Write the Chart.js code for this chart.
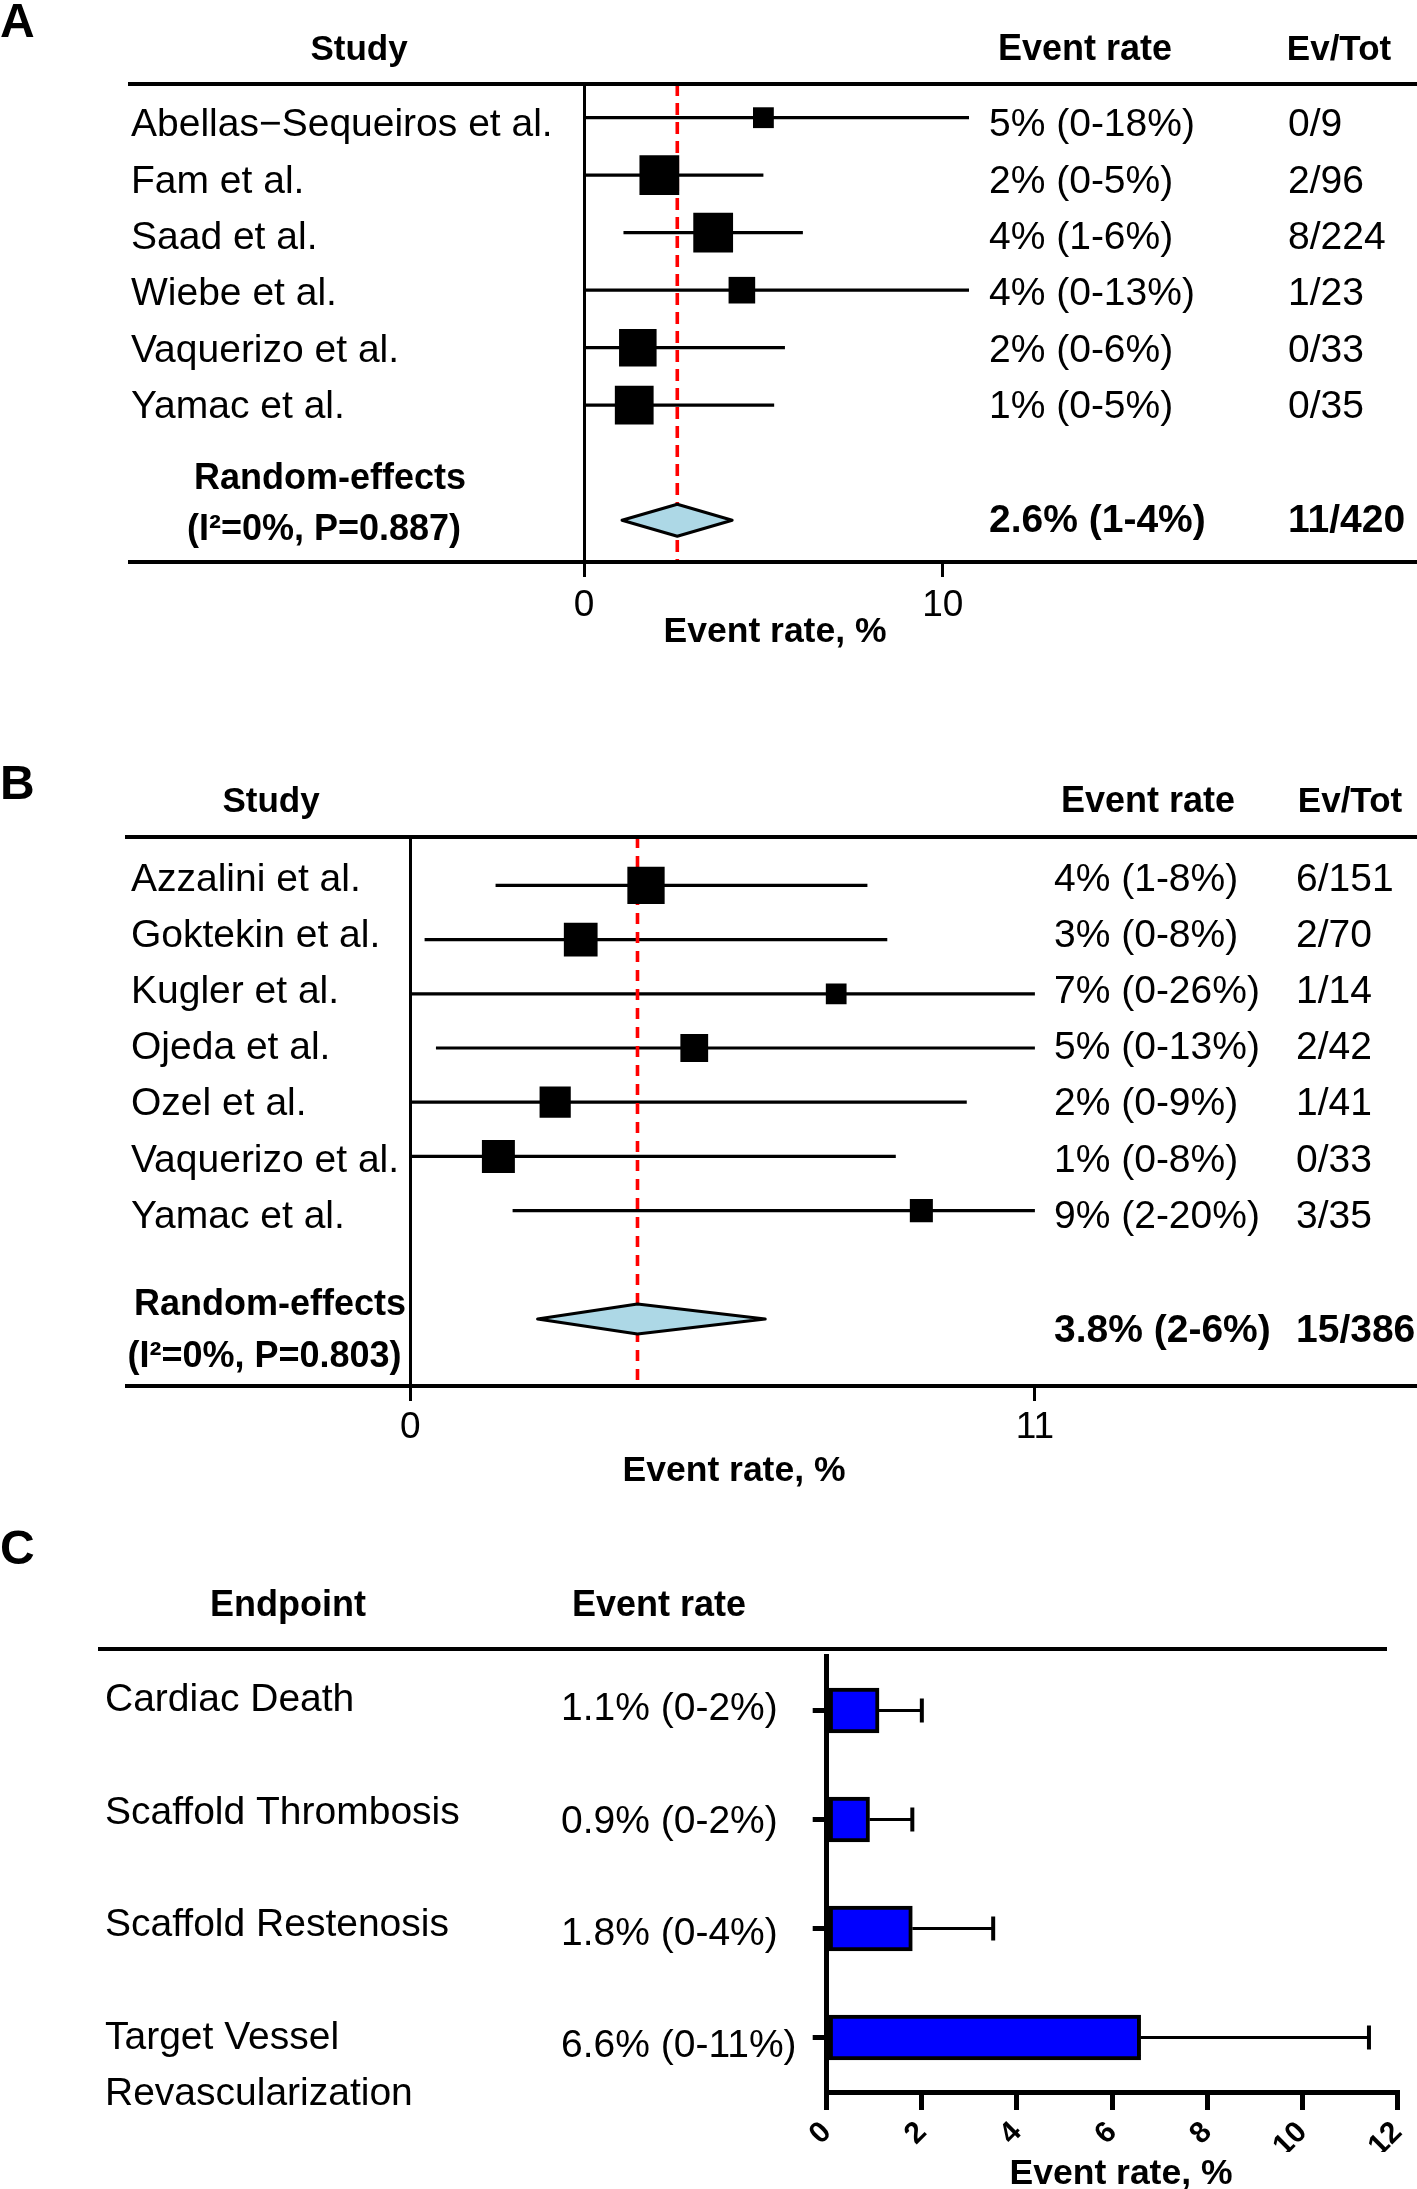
<!DOCTYPE html>
<html><head><meta charset="utf-8">
<script src="https://cdn.jsdelivr.net/npm/chart.js@4/dist/chart.umd.min.js"></script>
<style>
html,body{margin:0;padding:0;background:#fff;}
#wrap{position:relative;width:1417px;height:2189px;overflow:hidden;background:#fff;}
canvas{position:absolute;left:0;}
</style></head><body>
<div id="wrap">
<canvas id="cA" width="1417" height="700" style="top:0px"></canvas>
<canvas id="cB" width="1417" height="760" style="top:740px"></canvas>
<canvas id="cC" width="1417" height="689" style="top:1500px"></canvas>
</div>
<script>
// ---------------- Panel A data ----------------
const studiesA = ['Abellas−Sequeiros et al.', 'Fam et al.', 'Saad et al.', 'Wiebe et al.', 'Vaquerizo et al.', 'Yamac et al.'];
const rateA = [5.0, 2.1, 3.6, 4.4, 1.5, 1.4];
const lowA = [0, 0, 1.1, 0, 0, 0];
const highA = [18, 5.0, 6.1, 13, 5.6, 5.3];
const weightA = [6.0, 21.9, 21.9, 9.8, 19.5, 20.8];
const rateTextA = ['5% (0-18%)', '2% (0-5%)', '4% (1-6%)', '4% (0-13%)', '2% (0-6%)', '1% (0-5%)'];
const evTotA = ['0/9', '2/96', '8/224', '1/23', '0/33', '0/35'];
const pooledA = [1.06, 2.6, 4.13];            // low, estimate, high
const pooledTextA = ['2.6% (1-4%)', '11/420', '(I²=0%, P=0.887)'];
const ticksA = [0, 10];

// ---------------- Panel B data ----------------
const studiesB = ['Azzalini et al.', 'Goktekin et al.', 'Kugler et al.', 'Ojeda et al.', 'Ozel et al.', 'Vaquerizo et al.', 'Yamac et al.'];
const rateB = [4.15, 3.0, 7.5, 5.0, 2.55, 1.55, 9.0];
const lowB = [1.5, 0.25, 0, 0.45, 0, 0, 1.8];
const highB = [8.05, 8.4, 26, 13, 9.8, 8.55, 20];
const weightB = [22.0, 18.0, 6.8, 12.2, 15.4, 17.2, 8.4];
const rateTextB = ['4% (1-8%)', '3% (0-8%)', '7% (0-26%)', '5% (0-13%)', '2% (0-9%)', '1% (0-8%)', '9% (2-20%)'];
const evTotB = ['6/151', '2/70', '1/14', '2/42', '1/41', '0/33', '3/35'];
const pooledB = [2.24, 4.0, 6.25];
const pooledTextB = ['3.8% (2-6%)', '15/386', '(I²=0%, P=0.803)'];
const ticksB = [0, 11];

// ---------------- Panel C data ----------------
const endpointsC = [['Cardiac Death'], ['Scaffold Thrombosis'], ['Scaffold Restenosis'], ['Target Vessel', 'Revascularization']];
const rateC = [1.1, 0.9, 1.8, 6.6];
const upperC = [2.0, 1.8, 3.5, 11.4];
const rateTextC = ['1.1% (0-2%)', '0.9% (0-2%)', '1.8% (0-4%)', '6.6% (0-11%)'];
const ticksC = [0, 2, 4, 6, 8, 10, 12];

// ---------------- helpers ----------------
const FONT = "'Liberation Sans', Arial, Helvetica, sans-serif";
Chart.defaults.font.family = FONT;
Chart.defaults.color = '#000';
const W = 1417;
const TXT_DY = 3;   // canvas 'middle' sits a little above the visual centre of caps

function txt(ctx, s, x, y, size, bold, align) {
  ctx.save();
  ctx.font = (bold ? 'bold ' : '') + size + 'px ' + FONT;
  ctx.fillStyle = '#000';
  ctx.textAlign = align || 'left';
  ctx.textBaseline = 'middle';
  ctx.fillText(s, x, y + TXT_DY);
  ctx.restore();
}
function rule(ctx, x1, x2, y, w) {
  ctx.save();
  ctx.strokeStyle = '#000';
  ctx.lineWidth = w;
  ctx.beginPath(); ctx.moveTo(x1, y); ctx.lineTo(x2, y); ctx.stroke();
  ctx.restore();
}
function noScalePadding(s) { s.paddingLeft = 0; s.paddingRight = 0; s.paddingTop = 0; s.paddingBottom = 0; }

const forestDecor = {
  id: 'forestDecor',
  afterDatasetsDraw(chart, args, o) {
    const ctx = chart.ctx, xs = chart.scales.x, ys = chart.scales.y;
    const p = o.pooled;
    const yc = ys.getPixelForValue(o.summaryRow);
    const xl = xs.getPixelForValue(p[0]), xm = xs.getPixelForValue(p[1]), xr = xs.getPixelForValue(p[2]);
    ctx.save();
    ctx.beginPath();
    ctx.moveTo(xl, yc); ctx.lineTo(xm, yc - o.dh); ctx.lineTo(xr, yc); ctx.lineTo(xm, yc + o.dh); ctx.closePath();
    ctx.fillStyle = '#add8e6'; ctx.fill();
    ctx.lineWidth = 3; ctx.strokeStyle = '#000'; ctx.lineJoin = 'round'; ctx.stroke();
    ctx.restore();
  },
  afterDraw(chart, args, o) {
    const ctx = chart.ctx;
    const L = o.L;
    rule(ctx, L.ruleX, W, L.top, 4);
    rule(ctx, L.ruleX, W, L.bottom, 4);
    ctx.save(); ctx.font = 'bold 48px ' + FONT; ctx.fillStyle = '#000'; ctx.textBaseline = 'alphabetic';
    ctx.fillText(o.letter, 0, L.letterBase); ctx.restore();
    txt(ctx, 'Study', L.hStudy, L.hY, 35, true, 'center');
    txt(ctx, 'Event rate', L.hRate, L.hY, 36, true, 'center');
    txt(ctx, 'Ev/Tot', L.hEv, L.hY, 35, true, 'center');
    o.names.forEach((n, i) => {
      const y = L.nameY0 + L.nameStep * i;
      txt(ctx, n, L.nameX, y, 39, false);
      txt(ctx, o.rateText[i], L.rateX, y, 39, false);
      txt(ctx, o.evTot[i], L.evX, y, 39, false);
    });
    txt(ctx, 'Random-effects', L.reX, L.reY, 36, true, 'center');
    txt(ctx, o.pooledText[2], L.hetX, L.hetY, 36, true, 'center');
    txt(ctx, o.pooledText[0], L.rateX, L.sumY, 39, true);
    txt(ctx, o.pooledText[1], L.evX, L.sumY, 39, true);
    txt(ctx, 'Event rate, %', L.titleX, L.titleY, 35.5, true, 'center');
  }
};

function makeForest(id, H, names, rate, low, high, weight, rateText, evTot, pooled, pooledText, ticks, letter, L) {
  const rows = names.map((_, i) => i);
  const ciData = [];
  rows.forEach(i => { ciData.push({x: low[i], y: i}, {x: high[i], y: i}, {x: NaN, y: NaN}); });
  const XH = 60;
  return new Chart(document.getElementById(id), {
    type: 'scatter',
    data: {
      datasets: [
        { data: rows.map(i => ({x: rate[i], y: i})), pointStyle: 'rect',
          pointRadius: weight.map(w => L.boxK * Math.sqrt(w) / Math.SQRT2),
          backgroundColor: '#000', borderColor: '#000', borderWidth: 0, pointBorderWidth: 0 },
        { data: [{x: pooled[1], y: L.yMin}, {x: pooled[1], y: L.yMax}], showLine: true,
          borderColor: '#ff0000', borderWidth: 3.6, borderDash: L.dash, pointRadius: 0 },
        { data: ciData, showLine: true, spanGaps: false, borderColor: '#000', borderWidth: 3.2,
          pointRadius: 0, borderCapStyle: 'butt' }
      ]
    },
    options: {
      responsive: false, animation: false, events: [], devicePixelRatio: 1,
      layout: { autoPadding: false, padding: { left: L.left, right: W - L.right, top: L.top, bottom: H - L.bottom - XH } },
      plugins: {
        legend: { display: false }, tooltip: { enabled: false },
        forestDecor: { L, names, rateText, evTot, pooled, pooledText, letter, summaryRow: L.summaryRow, dh: L.dh }
      },
      scales: {
        x: { type: 'linear', min: 0, max: L.xMax,
             afterBuildTicks: s => { s.ticks = ticks.map(v => ({value: v})); },
             afterFit: s => { s.height = XH; noScalePadding(s); },
             ticks: { autoSkip: false, maxRotation: 0, minRotation: 0, font: { size: 37 }, color: '#000', padding: L.tickPad },
             grid: { drawOnChartArea: false, drawTicks: true, tickLength: 15, lineWidth: 3, color: '#000' },
             border: { display: false } },
        y: { type: 'linear', reverse: true, min: L.yMin, max: L.yMax,
             afterFit: s => { s.width = 0; noScalePadding(s); },
             ticks: { display: false }, grid: { display: false },
             border: { display: true, width: 3, color: '#000' } }
      }
    },
    plugins: [forestDecor]
  });
}

// Panel A (canvas top = 0)
makeForest('cA', 700, studiesA, rateA, lowA, highA, weightA, rateTextA, evTotA, pooledA, pooledTextA, ticksA, 'A', {
  left: 584, right: 969, top: 84, bottom: 562, xMax: 10.73, yMin: -0.586, yMax: 7.727, summaryRow: 7,
  dh: 16, boxK: 8.5, dash: [12, 7], tickPad: 7, ruleX: 128, letterBase: 37,
  hY: 47, hStudy: 359, hRate: 1085, hEv: 1339,
  nameX: 131, rateX: 989, evX: 1288, nameY0: 122.5, nameStep: 56.4,
  reX: 330, reY: 476, hetX: 324, hetY: 527, sumY: 518, titleX: 775, titleY: 629
});

// Panel B (canvas top = 740)
makeForest('cB', 760, studiesB, rateB, lowB, highB, weightB, rateTextB, evTotB, pooledB, pooledTextB, ticksB, 'B', {
  left: 410.4, right: 1034.9, top: 97, bottom: 646, xMax: 11, yMin: -0.893, yMax: 9.236, summaryRow: 8,
  dh: 15, boxK: 7.95, dash: [11, 8], tickPad: 5, ruleX: 125, letterBase: 59,
  hY: 59, hStudy: 271, hRate: 1148, hEv: 1350,
  nameX: 131, rateX: 1054, evX: 1296, nameY0: 137, nameStep: 56.15,
  reX: 270, reY: 562, hetX: 264.5, hetY: 614.5, sumY: 588, titleX: 734, titleY: 728
});

// Panel C (canvas top = 1500)
const LC = { nameX: 105, rateX: 561, nameY0: 197.7, valY0: 206.5, rowStep: 112.4, line2: 56 };
const decorC = {
  id: 'decorC',
  afterDatasetsDraw(chart) {
    const ctx = chart.ctx, xs = chart.scales.x, ys = chart.scales.y;
    ctx.save();
    ctx.strokeStyle = '#000';
    rateC.forEach((v, i) => {
      const y = ys.getPixelForValue(i);
      const x0 = xs.getPixelForValue(v), x1 = xs.getPixelForValue(upperC[i]);
      ctx.lineWidth = 3;
      ctx.beginPath(); ctx.moveTo(x0, y); ctx.lineTo(x1, y); ctx.stroke();
      ctx.lineWidth = 4;
      ctx.beginPath(); ctx.moveTo(x1, y - 12); ctx.lineTo(x1, y + 12); ctx.stroke();
    });
    ctx.restore();
  },
  afterDraw(chart) {
    const ctx = chart.ctx;
    rule(ctx, 98, 1387, 149, 4);
    ctx.save(); ctx.font = 'bold 48px ' + FONT; ctx.fillStyle = '#000'; ctx.textBaseline = 'alphabetic';
    ctx.fillText('C', 0, 64); ctx.restore();
    txt(ctx, 'Endpoint', 288, 103, 36, true, 'center');
    txt(ctx, 'Event rate', 659, 103, 36, true, 'center');
    endpointsC.forEach((lines, i) => {
      lines.forEach((s, k) => txt(ctx, s, LC.nameX, LC.nameY0 + i * LC.rowStep + k * LC.line2, 39, false));
      txt(ctx, rateTextC[i], LC.rateX, LC.valY0 + i * LC.rowStep, 39, false);
    });
    txt(ctx, 'Event rate, %', 1121, 671, 35.5, true, 'center');
  }
};
(function () {
  const H = 689, XH = 60;
  const area = { left: 826.7, right: 1397.5, top: 156, bottom: 592 };
  new Chart(document.getElementById('cC'), {
    type: 'bar',
    data: {
      labels: endpointsC.map(a => a.join(' ')),
      datasets: [{ data: rateC, backgroundColor: '#0000ff', borderColor: '#000', borderWidth: 4,
                   borderSkipped: false, barThickness: 45 }]
    },
    options: {
      indexAxis: 'y', responsive: false, animation: false, events: [], devicePixelRatio: 1,
      layout: { autoPadding: false, padding: { left: area.left, right: W - area.right, top: area.top, bottom: H - area.bottom - XH } },
      plugins: { legend: { display: false }, tooltip: { enabled: false } },
      scales: {
        x: { type: 'linear', min: 0, max: 12,
             afterBuildTicks: s => { s.ticks = ticksC.map(v => ({value: v})); },
             afterFit: s => { s.height = XH; noScalePadding(s); },
             ticks: { autoSkip: false, minRotation: 45, maxRotation: 45, font: { size: 30, weight: 'bold' }, color: '#000', padding: 5 },
             grid: { drawOnChartArea: false, drawTicks: true, tickLength: 18, lineWidth: 5, color: '#000' },
             border: { display: true, width: 5, color: '#000' } },
        y: { type: 'category', offset: true,
             afterFit: s => { s.width = 0; noScalePadding(s); },
             ticks: { display: false },
             grid: { drawOnChartArea: false, drawTicks: true, offset: false, tickLength: 14, lineWidth: 5, color: '#000' },
             border: { display: true, width: 5, color: '#000' } }
      }
    },
    plugins: [decorC]
  });
})();
</script>
</body></html>
